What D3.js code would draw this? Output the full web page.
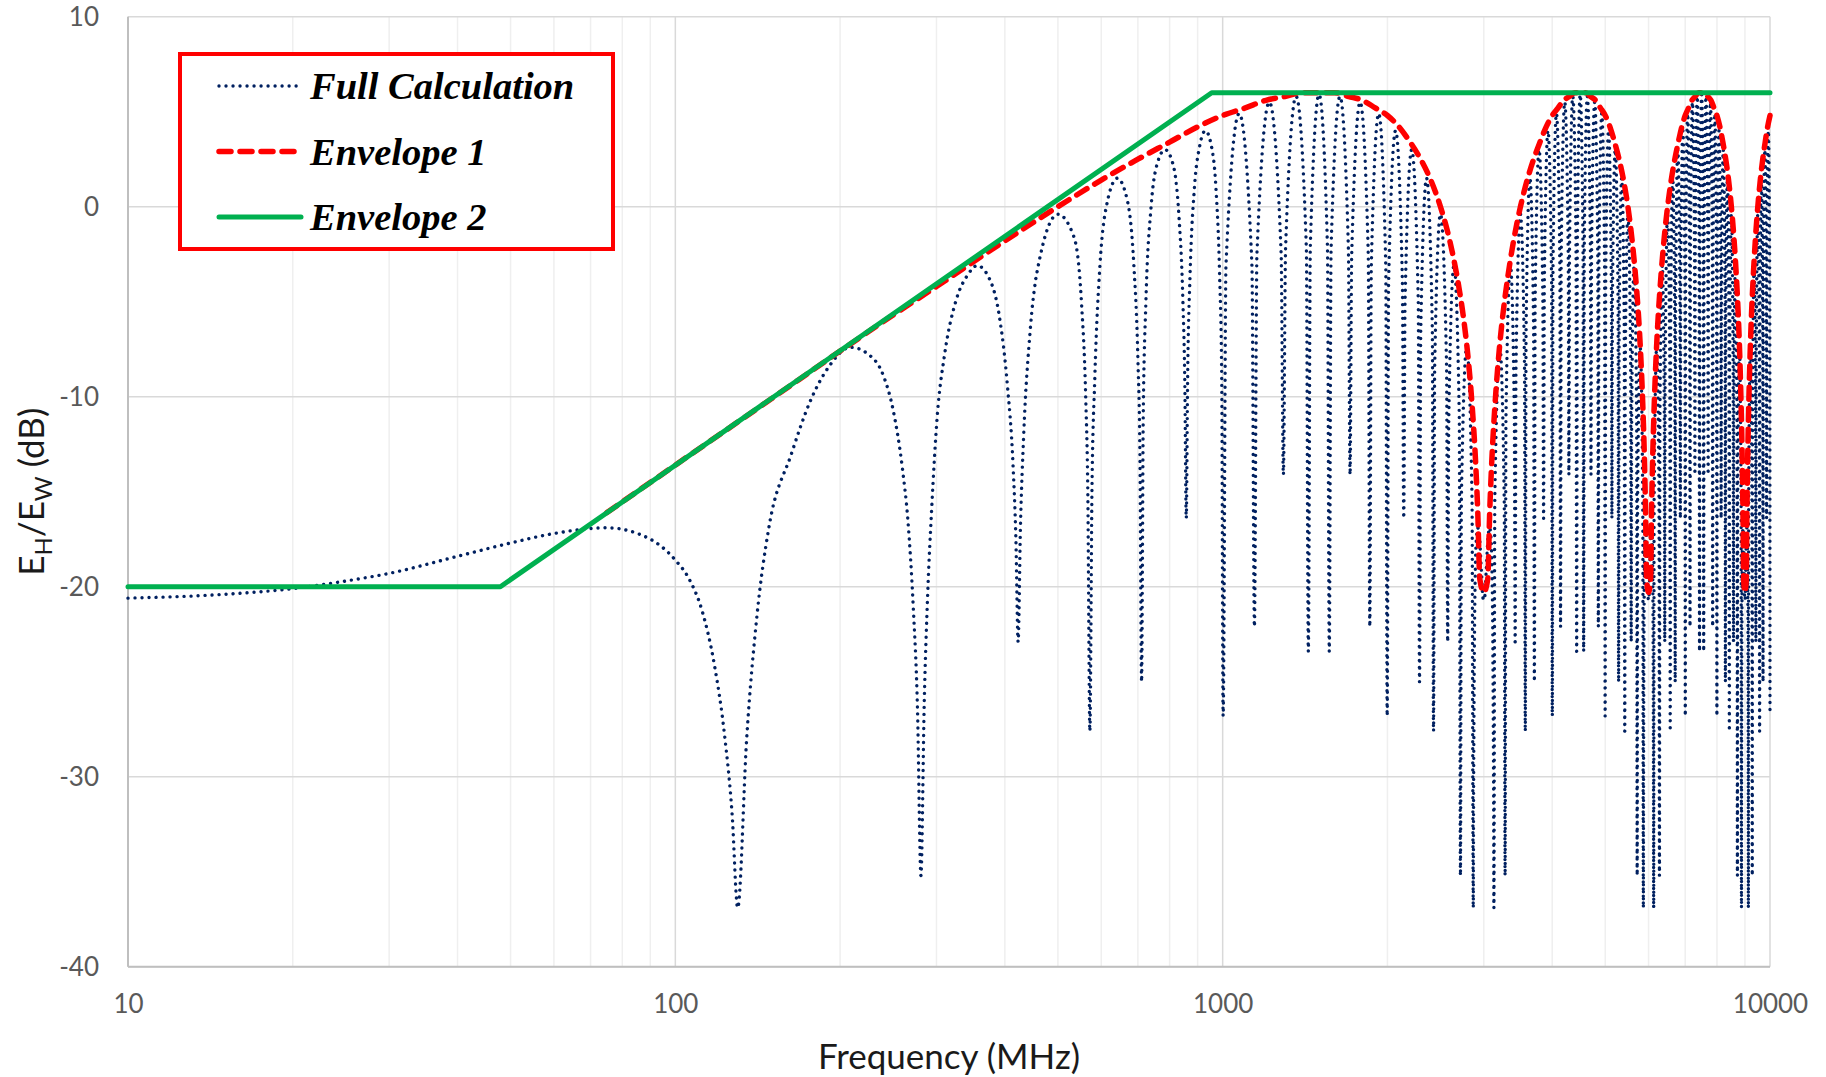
<!DOCTYPE html>
<html>
<head>
<meta charset="utf-8">
<script src="https://cdn.jsdelivr.net/npm/d3@7"></script>
<style>
  body { margin: 0; background: #fff; }
  svg { display: block; }
</style>
</head>
<body>
<svg id="chart"></svg>
<script>
// Axis ticks and legend labels
const xTicks = [10, 100, 1000, 10000];
const yTicks = [-40, -30, -20, -10, 0, 10];
const legendNames = ['Full Calculation', 'Envelope 1', 'Envelope 2'];

// Envelope 2: flat, then rising 20 dB/decade, then flat again  [MHz, dB]
const envelope2 = [[10, -20], [47.9, -20], [955, 6], [10000, 6]];

// Envelope 1 [MHz, dB]
const envelope1A = [
  [75, -16.1], [100, -13.6], [150, -10.1], [200, -7.6], [250, -5.7], [300, -4.2],
  [400, -1.8], [500, 0], [600, 1.4], [700, 2.5], [800, 3.4], [900, 4.2], [1000, 4.8],
  [1100, 5.2], [1200, 5.6], [1300, 5.8], [1400, 6.0], [1500, 6.0], [1600, 6.0], [1700, 5.8],
  [1800, 5.6], [1900, 5.2], [2000, 4.8], [2100, 4.2], [2200, 3.4], [2300, 2.5], [2400, 1.4],
  [2500, 0], [2600, -1.8], [2700, -4.2], [2750, -5.7], [2800, -7.6], [2850, -10.1],
  [2900, -13.6], [2925, -16.1], [2950, -19.6], [3000, -20.3], [3050, -19.6], [3075, -16.1],
  [3100, -13.6], [3150, -10.1], [3200, -7.6], [3250, -5.7], [3300, -4.2], [3400, -1.8],
  [3500, 0], [3600, 1.4], [3700, 2.5], [3800, 3.4], [3900, 4.2], [4000, 4.8], [4100, 5.2],
  [4200, 5.6], [4300, 5.8], [4400, 6.0], [4500, 6.0], [4600, 6.0], [4700, 5.8], [4800, 5.6],
  [4900, 5.2], [5000, 4.8], [5100, 4.2], [5200, 3.4], [5300, 2.5], [5400, 1.4], [5500, 0],
  [5600, -1.8], [5700, -4.2], [5750, -5.7], [5800, -7.6], [5850, -10.1], [5900, -13.6],
  [5925, -16.1], [5950, -19.6], [6000, -20.3]
];
const envelope1B = [
  [6050, -19.6], [6075, -16.1], [6100, -13.6], [6150, -10.1], [6200, -7.6], [6250, -5.7],
  [6300, -4.2], [6400, -1.8], [6500, 0], [6600, 1.4], [6700, 2.5], [6800, 3.4], [6900, 4.2],
  [7000, 4.8], [7100, 5.2], [7200, 5.6], [7300, 5.8], [7400, 6.0], [7500, 6.0], [7600, 6.0],
  [7700, 5.8], [7800, 5.6], [7900, 5.2], [8000, 4.8], [8100, 4.2], [8200, 3.4], [8300, 2.5],
  [8400, 1.4], [8500, 0], [8600, -1.8], [8700, -4.2], [8750, -5.7], [8800, -7.6],
  [8850, -10.1], [8900, -13.6], [8925, -16.1], [8950, -19.6], [9000, -20.3], [9050, -19.6],
  [9075, -16.1], [9100, -13.6], [9150, -10.1], [9200, -7.6], [9250, -5.7], [9300, -4.2],
  [9400, -1.8], [9500, 0], [9600, 1.4], [9700, 2.5], [9800, 3.4], [9900, 4.2], [10000, 4.8]
];

// Full calculation, read lobe by lobe  [MHz, dB]
const fullLow = [
  [10, -20.6], [15, -20.4], [20, -20.1], [25, -19.7], [30, -19.3], [40, -18.4], [50, -17.7],
  [60, -17.2], [75, -16.9], [90, -17.5], [100, -18.6], [106, -19.6], [112, -21.3], [118, -24.2],
  [123, -27.8], [127, -32.0], [130, -36.9],
  [135, -28.0], [141, -21.5], [148, -17.0], [163, -13.0], [176, -10.3], [191, -8.4], [209, -7.4],
  [226, -7.8], [240, -8.9], [250, -10.7], [260, -13.8], [266, -16.5], [272, -21.0], [277, -26.5],
  [281, -35.2],
  [285, -26.0], [289, -20.5], [294, -15.9], [301, -11.0], [310, -7.9], [326, -4.9], [342, -3.6],
  [356, -3.1], [375, -3.8], [391, -5.8], [404, -9.3], [414, -13.6], [419, -17.5], [423, -22.9],
  [427, -17.0], [433, -12.0], [445, -6.5], [465, -2.5], [500, -0.4], [535, -1.6], [552, -5.0],
  [562, -10.0], [567, -15.0], [572, -27.6],
  [577, -15.0], [584, -9.0], [597, -3.0], [615, 0.2], [642, 1.5], [670, 0.3], [688, -3.0],
  [700, -8.0], [706, -13.0], [711, -25.0],
  [716, -11.0], [724, -5.0], [740, 0.0], [760, 2.3], [785, 3.0], [812, 2.2], [832, -0.5],
  [846, -5.0], [853, -9.5], [858, -16.4],
  [863, -9.0], [872, -3.5], [888, 1.0], [908, 3.2], [930, 4.0], [952, 3.3], [972, 1.0],
  [987, -3.5], [996, -9.0], [1002, -26.8]
];
const fullBand1 = [
  [1014, -3.1], [1072, 4.9], [1131, -3.1], [1143, -22.1],
  [1155, -2.5], [1217, 5.5], [1279, -2.5], [1291, -14.1],
  [1303, -2.2], [1362, 5.8], [1422, -2.2], [1434, -23.4],
  [1446, -2.1], [1500, 5.9], [1554, -2.1], [1566, -23.4],
  [1578, -2.2], [1638, 5.8], [1697, -2.2], [1709, -14.1],
  [1721, -2.5], [1783, 5.5], [1845, -2.5], [1857, -22.1],
  [1869, -3.1], [1928, 4.9], [1986, -3.1], [1998, -26.8],
  [2010, -4.0], [2070, 4.0], [2130, -4.0], [2142, -16.4],
  [2154, -5.0], [2215, 3.0], [2277, -5.0], [2289, -25.0],
  [2301, -6.5], [2358, 1.5], [2416, -6.5], [2428, -27.6],
  [2440, -8.4], [2500, -0.4], [2565, -8.4], [2577, -22.9],
  [2589, -11.1], [2646, -3.1], [2706, -11.1], [2719, -35.2],
  [2730, -15.4], [2792, -7.4], [2855, -15.4], [2870, -36.9],
  [2873, -32.0], [2878, -27.2], [2883, -23.5], [2895, -19.1], [2909, -17.4], [2925, -16.9],
  [2950, -17.6], [2970, -19.2], [2990, -20.6], [3000, -20.7], [3010, -20.6], [3030, -19.2],
  [3050, -17.6], [3075, -16.9], [3091, -17.4], [3105, -19.1], [3117, -23.5], [3122, -27.2],
  [3127, -32.0], [3130, -36.9]
];
const fullBand2 = [
  [3142, -15.4], [3209, -7.4], [3269, -15.4], [3281, -35.2],
  [3293, -11.1], [3356, -3.1], [3411, -11.1], [3423, -22.9],
  [3435, -8.4], [3500, -0.4], [3560, -8.4], [3572, -27.6],
  [3584, -6.5], [3642, 1.5], [3699, -6.5], [3711, -25.0],
  [3723, -5.0], [3785, 3.0], [3846, -5.0], [3858, -16.4],
  [3870, -4.0], [3930, 4.0], [3990, -4.0], [4002, -26.8],
  [4014, -3.1], [4072, 4.9], [4131, -3.1], [4143, -22.1],
  [4155, -2.5], [4217, 5.5], [4279, -2.5], [4291, -14.1],
  [4303, -2.2], [4362, 5.8], [4422, -2.2], [4434, -23.4],
  [4446, -2.1], [4500, 5.9], [4554, -2.1], [4566, -23.4],
  [4578, -2.2], [4638, 5.8], [4697, -2.2], [4709, -14.1],
  [4721, -2.5], [4783, 5.5], [4845, -2.5], [4857, -22.1],
  [4869, -3.1], [4928, 4.9], [4986, -3.1], [4998, -26.8],
  [5010, -4.0], [5070, 4.0], [5130, -4.0], [5142, -16.4],
  [5154, -5.0], [5215, 3.0], [5277, -5.0], [5289, -25.0],
  [5301, -6.5], [5358, 1.5], [5416, -6.5], [5428, -27.6],
  [5440, -8.4], [5500, -0.4], [5565, -8.4], [5577, -22.9],
  [5589, -11.1], [5646, -3.1], [5706, -11.1], [5719, -35.2],
  [5730, -15.4], [5792, -7.4], [5855, -15.4], [5870, -36.9],
  [5873, -32.0], [5878, -27.2], [5883, -23.5], [5895, -19.1], [5909, -17.4], [5925, -16.9],
  [5950, -17.6], [5970, -19.2], [5990, -20.6], [6000, -20.7], [6010, -20.6], [6030, -19.2],
  [6050, -17.6], [6075, -16.9], [6091, -17.4], [6105, -19.1], [6117, -23.5], [6122, -27.2],
  [6127, -32.0], [6130, -36.9]
];
const fullBand3 = [
  [6142, -15.4], [6209, -7.4], [6269, -15.4], [6281, -35.2],
  [6293, -11.1], [6356, -3.1], [6411, -11.1], [6423, -22.9],
  [6435, -8.4], [6500, -0.4], [6560, -8.4], [6572, -27.6],
  [6584, -6.5], [6642, 1.5], [6699, -6.5], [6711, -25.0],
  [6723, -5.0], [6785, 3.0], [6846, -5.0], [6858, -16.4],
  [6870, -4.0], [6930, 4.0], [6990, -4.0], [7002, -26.8],
  [7014, -3.1], [7072, 4.9], [7131, -3.1], [7143, -22.1],
  [7155, -2.5], [7217, 5.5], [7279, -2.5], [7291, -14.1],
  [7303, -2.2], [7362, 5.8], [7422, -2.2], [7434, -23.4],
  [7446, -2.1], [7500, 5.9], [7554, -2.1], [7566, -23.4],
  [7578, -2.2], [7638, 5.8], [7697, -2.2], [7709, -14.1],
  [7721, -2.5], [7783, 5.5], [7845, -2.5], [7857, -22.1],
  [7869, -3.1], [7928, 4.9], [7986, -3.1], [7998, -26.8],
  [8010, -4.0], [8070, 4.0], [8130, -4.0], [8142, -16.4],
  [8154, -5.0], [8215, 3.0], [8277, -5.0], [8289, -25.0],
  [8301, -6.5], [8358, 1.5], [8416, -6.5], [8428, -27.6],
  [8440, -8.4], [8500, -0.4], [8565, -8.4], [8577, -22.9],
  [8589, -11.1], [8646, -3.1], [8706, -11.1], [8719, -35.2],
  [8730, -15.4], [8792, -7.4], [8855, -15.4], [8870, -36.9],
  [8873, -32.0], [8878, -27.2], [8883, -23.5], [8895, -19.1], [8909, -17.4], [8925, -16.9],
  [8950, -17.6], [8970, -19.2], [8990, -20.6], [9000, -20.7], [9010, -20.6], [9030, -19.2],
  [9050, -17.6], [9075, -16.9], [9091, -17.4], [9105, -19.1], [9117, -23.5], [9122, -27.2],
  [9127, -32.0], [9130, -36.9],
  [9142, -15.4], [9209, -7.4], [9269, -15.4], [9281, -35.2],
  [9293, -11.1], [9356, -3.1], [9411, -11.1], [9423, -22.9],
  [9435, -8.4], [9500, -0.4], [9560, -8.4], [9572, -27.6],
  [9584, -6.5], [9642, 1.5], [9699, -6.5], [9711, -25.0],
  [9723, -5.0], [9785, 3.0], [9846, -5.0], [9858, -16.4],
  [9870, -4.0], [9930, 4.0], [9990, -4.0], [10000, -26.6]
];

const fullCalc = fullLow.concat(fullBand1, fullBand2, fullBand3);
const envelope1 = envelope1A.concat(envelope1B);

const width = 1826;
const height = 1077;
const plot = { left: 128, right: 1770, top: 16.7, bottom: 966.7 };

const svg = d3.select('#chart')
    .attr('width', width)
    .attr('height', height);

const x = d3.scaleLog().domain([10, 10000]).range([plot.left, plot.right]);
const y = d3.scaleLinear().domain([-40, 10]).range([plot.bottom, plot.top]);

// Grid: minor verticals first, then majors
const minorX = x.ticks().filter(d => !xTicks.includes(d));
svg.append('g')
    .selectAll('line')
    .data(minorX)
    .join('line')
    .attr('x1', d => x(d)).attr('x2', d => x(d))
    .attr('y1', plot.top).attr('y2', plot.bottom)
    .attr('stroke', '#efefef')
    .attr('stroke-width', 1.5);

svg.append('g')
    .selectAll('line')
    .data(xTicks)
    .join('line')
    .attr('x1', d => x(d)).attr('x2', d => x(d))
    .attr('y1', plot.top).attr('y2', plot.bottom)
    .attr('stroke', '#d9d9d9')
    .attr('stroke-width', 1.5);

svg.append('g')
    .selectAll('line')
    .data(yTicks)
    .join('line')
    .attr('x1', plot.left).attr('x2', plot.right)
    .attr('y1', d => y(d)).attr('y2', d => y(d))
    .attr('stroke', '#d9d9d9')
    .attr('stroke-width', 1.5);

// Axis lines
svg.append('line')
    .attr('x1', plot.left).attr('x2', plot.left)
    .attr('y1', plot.top).attr('y2', plot.bottom)
    .attr('stroke', '#bfbfbf').attr('stroke-width', 2);
svg.append('line')
    .attr('x1', plot.left).attr('x2', plot.right)
    .attr('y1', plot.bottom).attr('y2', plot.bottom)
    .attr('stroke', '#bfbfbf').attr('stroke-width', 2);

// Tick labels
const tickFont = 'Lato, "Open Sans", sans-serif';
const xAxis = svg.append('g')
    .attr('transform', `translate(0,${plot.bottom})`)
    .call(d3.axisBottom(x).tickValues(xTicks).tickFormat(d => String(d)).tickSize(0).tickPadding(28));
const yAxis = svg.append('g')
    .attr('transform', `translate(${plot.left},0)`)
    .call(d3.axisLeft(y).tickValues(yTicks).tickFormat(d => String(d)).tickSize(0).tickPadding(29));
[xAxis, yAxis].forEach(g => {
    g.select('.domain').remove();
    g.attr('font-family', tickFont).attr('font-size', 26);
    g.selectAll('text').attr('fill', '#595959');
});

// Axis titles
svg.append('text')
    .attr('x', (plot.left + plot.right) / 2)
    .attr('y', 1069)
    .attr('text-anchor', 'middle')
    .attr('font-family', tickFont)
    .attr('font-size', 35)
    .attr('fill', '#1a1a1a')
    .text('Frequency (MHz)');

const yTitle = svg.append('text')
    .attr('transform', `translate(44,${(plot.top + plot.bottom) / 2}) rotate(-90)`)
    .attr('text-anchor', 'middle')
    .attr('font-family', tickFont)
    .attr('font-size', 35)
    .attr('fill', '#1a1a1a');
yTitle.append('tspan').text('E');
yTitle.append('tspan').attr('font-size', 24).attr('dy', 8).text('H');
yTitle.append('tspan').attr('dy', -8).text('/E');
yTitle.append('tspan').attr('font-size', 24).attr('dy', 8).text('W');
yTitle.append('tspan').attr('dy', -8).text(' (dB)');

// Series
const line = d3.line()
    .x(d => x(d[0]))
    .y(d => y(d[1]));

const series = [
    { name: legendNames[0], data: fullCalc, curve: d3.curveMonotoneX, color: '#002060', width: 3.4, dash: '0.01 7' },
    { name: legendNames[1], data: envelope1, curve: d3.curveMonotoneX, color: '#ff0000', width: 5.5, dash: '12 9' },
    { name: legendNames[2], data: envelope2, curve: d3.curveLinear, color: '#00b050', width: 5, dash: null }
];

series.forEach(s => {
    svg.append('path')
        .datum(s.data)
        .attr('d', line.curve(s.curve))
        .attr('fill', 'none')
        .attr('stroke', s.color)
        .attr('stroke-width', s.width)
        .attr('stroke-linecap', 'round')
        .attr('stroke-linejoin', 'round')
        .attr('stroke-dasharray', s.dash);
});

// Legend
const legend = svg.append('g').attr('transform', 'translate(180,54)');
legend.append('rect')
    .attr('width', 433)
    .attr('height', 195)
    .attr('fill', '#fff')
    .attr('stroke', '#ff0000')
    .attr('stroke-width', 4);

series.forEach((s, i) => {
    const rowY = 32 + i * 65.5;
    legend.append('line')
        .attr('x1', 39).attr('x2', 121)
        .attr('y1', rowY).attr('y2', rowY)
        .attr('stroke', s.color)
        .attr('stroke-width', s.width)
        .attr('stroke-linecap', 'round')
        .attr('stroke-dasharray', s.dash);
    legend.append('text')
        .attr('x', 130)
        .attr('y', rowY + 13)
        .attr('font-family', '"Liberation Serif", "Times New Roman", serif')
        .attr('font-weight', 'bold')
        .attr('font-style', 'italic')
        .attr('font-size', 38.5)
        .attr('fill', '#000')
        .text(s.name);
});
</script>
</body>
</html>
